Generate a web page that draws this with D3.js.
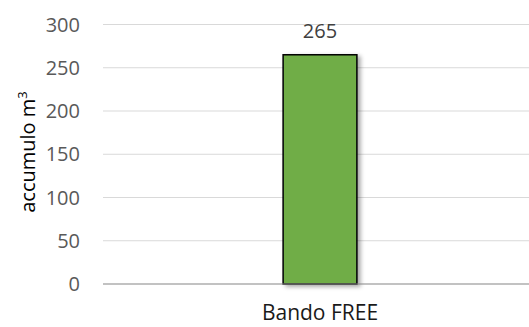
<!DOCTYPE html>
<html>
<head>
<meta charset="utf-8">
<script src="https://cdn.jsdelivr.net/npm/d3@7"></script>
<style>
  body { margin: 0; background: #fff; }
  text { font-family: "Open Sans", "Liberation Sans", sans-serif; }
</style>
</head>
<body>
<div id="chart"></div>
<script>
// data
const categories = ["Bando FREE"];
const values = [265];
const yTicks = [0, 50, 100, 150, 200, 250, 300];

const W = 529, H = 327;
const margin = {top: 24.5, right: -8, bottom: 43, left: 103};
const width = W - margin.left - margin.right,
      height = H - margin.top - margin.bottom;

let svg = d3.select("#chart")
  .append("svg")
  .attr("width", W)
  .attr("height", H);

// shadow for bar
let defs = svg.append("defs");
let f = defs.append("filter").attr("id", "shadow")
  .attr("x", "-20%").attr("y", "-20%").attr("width", "150%").attr("height", "150%");
f.append("feDropShadow")
  .attr("dx", 3).attr("dy", 2).attr("stdDeviation", 2)
  .attr("flood-color", "#000").attr("flood-opacity", 0.35);

let g = svg.append("g")
  .attr("transform", `translate(${margin.left}, ${margin.top})`);

let y = d3.scaleLinear().domain([0, 300]).range([height, 0]);
let x = d3.scaleBand().domain(categories).range([0, width]).paddingInner(0.83).paddingOuter(0.415);

// gridlines
g.append("g")
  .selectAll("line")
  .data(yTicks.filter(d => d > 0))
  .enter()
  .append("line")
    .attr("x1", 0).attr("x2", width)
    .attr("y1", d => y(d)).attr("y2", d => y(d))
    .attr("stroke", "#d9d9d9").attr("stroke-width", 1);

// y tick labels
g.append("g")
  .selectAll("text")
  .data(yTicks)
  .enter()
  .append("text")
    .attr("x", -23)
    .attr("y", d => y(d))
    .attr("dy", "0.36em")
    .attr("text-anchor", "end")
    .attr("font-size", "20px")
    .attr("fill", "#595959")
    .text(d => d);

// bars
g.append("g")
  .selectAll("rect")
  .data(values)
  .enter()
  .append("rect")
    .attr("x", (d, i) => x(categories[i]))
    .attr("y", d => y(d))
    .attr("width", x.bandwidth())
    .attr("height", d => height - y(d))
    .attr("fill", "#70ad47")
    .attr("stroke", "#000")
    .attr("stroke-width", 1.5)
    .attr("filter", "url(#shadow)");

// value labels
g.append("g")
  .selectAll("text")
  .data(values)
  .enter()
  .append("text")
    .attr("x", (d, i) => x(categories[i]) + x.bandwidth() / 2)
    .attr("y", d => y(d) - 17)
    .attr("text-anchor", "middle")
    .attr("font-size", "20px")
    .attr("fill", "#404040")
    .text(d => d);

// x axis baseline
g.append("line")
  .attr("x1", 0).attr("x2", width)
  .attr("y1", height).attr("y2", height)
  .attr("stroke", "#868686").attr("stroke-width", 1.2);

// x labels
g.append("g")
  .selectAll("text")
  .data(categories)
  .enter()
  .append("text")
    .attr("x", d => x(d) + x.bandwidth() / 2)
    .attr("y", height + 36)
    .attr("text-anchor", "middle")
    .attr("font-size", "21px")
    .attr("fill", "#1a1a1a")
    .text(d => d);

// y axis title
svg.append("text")
  .attr("transform", `translate(35, 152) rotate(-90)`)
  .attr("text-anchor", "middle")
  .attr("font-size", "20px")
  .attr("fill", "#000")
  .html("accumulo m<tspan dy='-8' font-size='13px'>3</tspan>");
</script>
</body>
</html>
